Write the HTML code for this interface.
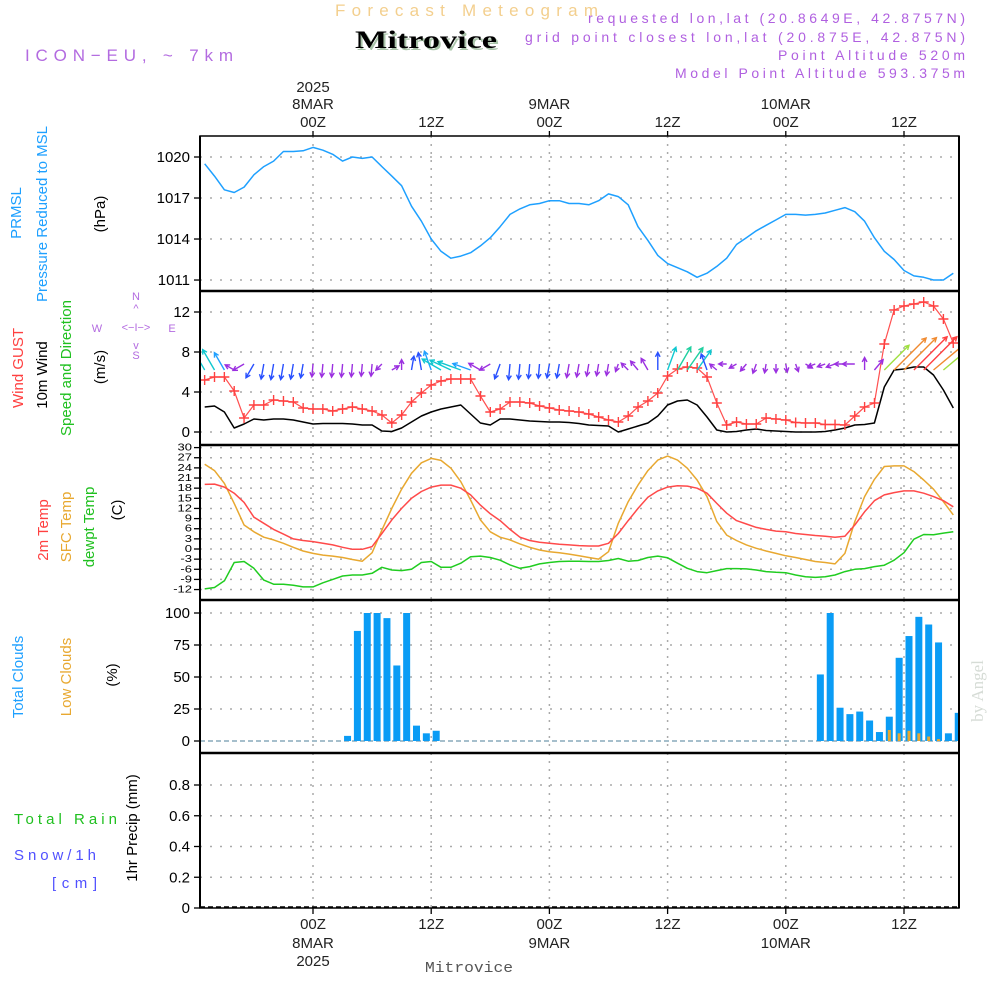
<!DOCTYPE html>
<html><head><meta charset="utf-8">
<style>
html,body{margin:0;padding:0;background:#fff;width:1000px;height:1000px;overflow:hidden}
svg{display:block}
text{font-family:"Liberation Sans","DejaVu Sans",sans-serif}
</style></head>
<body>
<svg id="chart" width="1000" height="1000" viewBox="0 0 1000 1000" xmlns="http://www.w3.org/2000/svg">
<defs><clipPath id="windclip"><rect x="200" y="292" width="759" height="152"/></clipPath></defs>
<g>
<text x="335" y="16" font-size="17" fill="#f3cf8e" textLength="263" lengthAdjust="spacing">Forecast Meteogram</text>
<text x="357" y="50" font-size="25" font-weight="bold" fill="#a9c4a9" style="font-family:'Liberation Serif',serif" textLength="142" lengthAdjust="spacingAndGlyphs">Mitrovice</text>
<text x="355" y="48" font-size="25" font-weight="bold" fill="#000" style="font-family:'Liberation Serif',serif" textLength="142" lengthAdjust="spacingAndGlyphs">Mitrovice</text>
<text x="25" y="61" font-size="17" fill="#b36be0" textLength="208" lengthAdjust="spacing">ICON−EU, ~ 7km</text>
<text x="965" y="23" font-size="14" fill="#b060e0" text-anchor="end" textLength="377" lengthAdjust="spacing">requested lon,lat (20.8649E, 42.8757N)</text>
<text x="965" y="42" font-size="14" fill="#b060e0" text-anchor="end" textLength="440" lengthAdjust="spacing">grid point closest lon,lat (20.875E, 42.875N)</text>
<text x="965" y="60" font-size="14" fill="#b060e0" text-anchor="end" textLength="187" lengthAdjust="spacing">Point Altitude 520m</text>
<text x="965" y="78" font-size="14" fill="#b060e0" text-anchor="end" textLength="290" lengthAdjust="spacing">Model Point Altitude 593.375m</text>
</g>
<g font-size="15">
<text transform="translate(21,213) rotate(-90)" text-anchor="middle" fill="#1ea0ff">PRMSL</text>
<text transform="translate(47,214) rotate(-90)" text-anchor="middle" fill="#1ea0ff">Pressure Reduced to MSL</text>
<text transform="translate(105,214) rotate(-90)" text-anchor="middle" fill="#000">(hPa)</text>
<text transform="translate(23,368) rotate(-90)" text-anchor="middle" fill="#ff4040">Wind GUST</text>
<text transform="translate(47,375) rotate(-90)" text-anchor="middle" fill="#000">10m Wind</text>
<text transform="translate(71,368) rotate(-90)" text-anchor="middle" fill="#20c020">Speed and Direction</text>
<text transform="translate(105,367) rotate(-90)" text-anchor="middle" fill="#000">(m/s)</text>
<g fill="#b36be0" font-size="11" text-anchor="middle">
<text x="136" y="300">N</text><text x="136" y="312">^</text><text x="136" y="331">&lt;−I−&gt;</text><text x="136" y="349">v</text><text x="136" y="359">S</text><text x="97" y="332">W</text><text x="172" y="332">E</text>
</g>
<text transform="translate(48,530) rotate(-90)" text-anchor="middle" fill="#ff4040">2m Temp</text>
<text transform="translate(71,527) rotate(-90)" text-anchor="middle" fill="#e8a830">SFC Temp</text>
<text transform="translate(94,527) rotate(-90)" text-anchor="middle" fill="#20c020">dewpt Temp</text>
<text transform="translate(122,510) rotate(-90)" text-anchor="middle" fill="#000">(C)</text>
<text transform="translate(23,677) rotate(-90)" text-anchor="middle" fill="#1ea0ff">Total Clouds</text>
<text transform="translate(71,677) rotate(-90)" text-anchor="middle" fill="#e8a830">Low Clouds</text>
<text transform="translate(117,675) rotate(-90)" text-anchor="middle" fill="#000">(%)</text>
<text transform="translate(137,828) rotate(-90)" text-anchor="middle" fill="#000">1hr Precip (mm)</text>
<text x="14" y="824" fill="#20c020" textLength="103" lengthAdjust="spacing">Total   Rain</text>
<text x="14" y="860" fill="#5050ff" textLength="82" lengthAdjust="spacing">Snow/1h</text>
<text x="52" y="888" fill="#5050ff" textLength="45" lengthAdjust="spacing">[cm]</text>
</g>
<text transform="translate(983,691) rotate(-90)" text-anchor="middle" font-size="17" fill="#d6dcd6" style="font-family:'Liberation Serif',serif">by Angel</text>
<text x="425" y="972" font-size="15" fill="#555" style="font-family:'Liberation Mono',monospace" textLength="88" lengthAdjust="spacingAndGlyphs">Mitrovice</text>
<g id="plot"></g>
</svg>
<script>
// hours relative to 8MAR 00Z, hourly from -11 to 65
const hourStart = -11;
const pressure = [1019.5,1018.6,1017.6,1017.4,1017.8,1018.7,1019.3,1019.7,1020.4,1020.4,1020.45,1020.7,1020.5,1020.2,1019.7,1020.0,1019.9,1020.0,1019.3,1018.6,1017.9,1016.4,1015.3,1014.0,1013.1,1012.6,1012.75,1013.0,1013.5,1014.1,1014.9,1015.8,1016.2,1016.5,1016.6,1016.8,1016.8,1016.6,1016.6,1016.5,1016.8,1017.3,1017.1,1016.5,1014.9,1013.9,1012.8,1012.2,1011.9,1011.6,1011.2,1011.5,1012.0,1012.6,1013.6,1014.1,1014.6,1015.0,1015.4,1015.8,1015.8,1015.75,1015.8,1015.9,1016.1,1016.3,1016.0,1015.3,1014.1,1013.1,1012.5,1011.7,1011.3,1011.2,1011.0,1011.0,1011.5];
const gust = [5.2,5.5,5.5,4.1,1.4,2.7,2.7,3.2,3.1,3.0,2.4,2.3,2.3,2.1,2.3,2.5,2.3,2.1,1.7,0.9,1.7,3.0,3.9,4.7,5.1,5.3,5.3,5.3,3.6,2.0,2.3,3.0,3.0,2.9,2.6,2.4,2.2,2.1,2.0,1.8,1.5,1.2,1.0,1.6,2.5,3.1,3.9,5.6,6.3,6.5,6.4,5.5,2.9,0.7,1.0,0.8,0.8,1.4,1.3,1.2,0.95,0.9,0.9,0.75,0.75,0.7,1.6,2.5,2.9,8.8,12.2,12.6,12.8,13.0,12.6,11.3,8.9];
const windSpeed = [2.5,2.6,2.0,0.4,0.8,1.3,1.2,1.3,1.3,1.2,1.0,0.8,0.85,0.85,0.85,0.8,0.7,0.7,0.1,0.05,0.4,1.0,1.6,2.0,2.3,2.5,2.7,1.8,0.9,0.7,1.3,1.3,1.2,1.1,1.05,1.0,1.0,0.95,0.85,0.7,0.65,0.6,0.0,0.3,0.6,0.9,1.6,2.7,3.1,3.2,2.7,1.5,0.2,0.0,0.05,0.2,0.3,0.15,0.1,0.05,0,0,0,0.05,0.2,0.4,0.7,0.75,0.9,4.5,6.2,6.3,6.5,6.5,5.7,4.2,2.4];
// direction the arrow points to, degrees clockwise from north
const windDir = [330,330,330,300,240,210,190,190,190,190,190,185,185,185,185,185,185,185,225,60,0,10,350,340,300,295,290,290,300,240,200,185,185,185,185,190,190,190,190,190,190,190,200,315,320,330,0,20,30,35,35,340,310,270,240,220,200,190,180,170,160,120,250,250,250,270,270,0,40,45,45,45,45,45,50,50];
const temp2m = [19.1,19.2,18.3,16.5,13.8,9.4,7.6,5.8,4.4,3.0,2.5,2.2,1.7,1.2,0.5,-0.1,-0.1,0.7,4.6,8.6,12.0,15.0,17.0,18.3,18.9,18.9,18.0,16.0,13.0,10.4,8.4,5.8,3.5,2.5,2.0,1.7,1.4,1.2,1.0,0.9,0.9,1.7,4.6,8.4,12.0,15.3,17.2,18.3,18.7,18.6,18.0,16.5,13.5,10.6,8.4,7.4,6.4,5.8,5.3,5.1,4.6,4.3,4.0,3.8,3.5,3.8,7.1,11.0,14.3,16.0,16.7,17.2,17.2,16.5,15.5,14.3,12.5];
const tempSfc = [25.1,23.2,19.4,13.5,7.1,5.1,3.5,2.7,1.7,0.5,-0.6,-1.3,-1.8,-2.1,-2.5,-3.1,-3.6,-1.1,5.6,12.0,17.7,22.4,25.5,26.8,26.2,23.9,19.9,14.5,8.6,5.1,3.5,2.7,1.5,0.5,-0.3,-0.8,-1.1,-1.5,-2.0,-2.5,-3.0,-0.8,7.6,14.0,18.9,23.2,26.3,27.5,26.3,23.9,20.4,15.5,8.1,4.1,2.5,1.2,0.2,-0.6,-1.3,-2.0,-2.5,-3.1,-3.7,-4.0,-4.4,-1.3,8.1,15.5,20.6,24.4,24.6,24.6,22.9,20.4,17.7,14.0,10.1];
const dewpoint = [-11.8,-11.4,-9.4,-4.0,-3.7,-5.7,-9.2,-10.4,-10.4,-10.7,-11.2,-11.2,-10.0,-9.0,-8.0,-7.7,-7.7,-7.2,-5.4,-6.2,-6.4,-6.0,-4.0,-3.7,-5.4,-5.4,-4.2,-2.3,-2.1,-2.5,-3.3,-4.7,-5.7,-5.2,-4.4,-4.0,-3.7,-3.6,-3.6,-3.7,-3.7,-3.4,-2.8,-3.6,-3.4,-2.5,-2.1,-2.6,-4.2,-5.7,-6.7,-7.0,-6.4,-5.8,-5.8,-5.9,-6.2,-6.7,-6.9,-7.0,-7.7,-8.2,-8.4,-8.2,-7.7,-6.7,-6.0,-5.8,-5.2,-4.8,-3.3,-1.1,2.9,4.3,4.2,4.7,5.1];
const totalClouds = [0,0,0,0,0,0,0,0,0,0,0,0,0,0,4,86,100,100,96,59,100,12,6,8,0,0,0,0,0,0,0,0,0,0,0,0,0,0,0,0,0,0,0,0,0,0,0,0,0,0,0,0,0,0,0,0,0,0,0,0,0,0,52,100,26,21,23,16,7,19,65,82,97,91,77,6,22];
const lowClouds = [0,0,0,0,0,0,0,0,0,0,0,0,0,0,0,0,0,0,0,0,0,0,0,0,0,0,0,0,0,0,0,0,0,0,0,0,0,0,0,0,0,0,0,0,0,0,0,0,0,0,0,0,0,0,0,0,0,0,0,0,0,0,0,0,0,0,0,0,0,8.6,6,8,6,3.5,1.5,0,0];
const precip = new Array(77).fill(0);
const pressTicks = [1011,1014,1017,1020];
const windTicks = [0,4,8,12];
const tempTicks = [-12,-9,-6,-3,0,3,6,9,12,15,18,21,24,27,30];
const cloudTicks = [0,25,50,75,100];
const precipTicks = [0,0.2,0.4,0.6,0.8];
const timeTicks = [0,12,24,36,48,60];
const timeLabels = ["00Z","12Z","00Z","12Z","00Z","12Z"];
const dateLabels = ["8MAR","","9MAR","","10MAR",""];

const NS="http://www.w3.org/2000/svg";
const plot=document.getElementById('plot');
const L=200,R=959;
const xh=h=>313+h*9.85;
const yP=p=>157+(1020-p)*13.67;
const yW=v=>432-v*10;
const yT=t=>549-t*3.38;
const yC=c=>741-c*1.28;
const yR=r=>908-r*153.75;
function el(tag,attrs,parent){const e=document.createElementNS(NS,tag);for(const k in attrs)e.setAttribute(k,attrs[k]);(parent||plot).appendChild(e);return e;}
const panels=[[136,291],[291,445],[445,600],[600,753],[753,908]];

const grid=el('g',{});


function hgrid(y){el('line',{x1:L,x2:R,y1:y,y2:y,stroke:'#aaa','stroke-width':1.5,'stroke-dasharray':'2 8'},grid);}
pressTicks.forEach(v=>hgrid(yP(v)));
windTicks.forEach(v=>hgrid(yW(v)));
tempTicks.forEach(v=>hgrid(yT(v)));
cloudTicks.forEach(v=>{if(v>0)hgrid(yC(v));});
precipTicks.forEach(v=>{if(v>0)hgrid(yR(v));});
timeTicks.forEach(h=>{panels.forEach(p=>el('line',{x1:xh(h),x2:xh(h),y1:p[0],y2:p[1],stroke:'#aaa','stroke-width':1.5,'stroke-dasharray':'2 6'},grid));});

function yaxis(ticks,fn,fmt,name){
  const g=el('g',{'font-size':15,'text-anchor':'end',fill:'#000'});
  
  
  ticks.forEach(v=>{const y=fn(v);el('line',{x1:L-6,x2:L,y1:y,y2:y,stroke:'#000','stroke-width':1.3},g);const t=el('text',{x:L-10,y:y+5},g);t.textContent=fmt(v);});
}
yaxis(pressTicks,yP,v=>v,'pressure-y-axis');
yaxis(windTicks,yW,v=>v,'wind-y-axis');
(function(){const g=el('g',{'font-size':13,'text-anchor':'end',fill:'#000'});


tempTicks.forEach(v=>{const y=yT(v);el('line',{x1:L-6,x2:L,y1:y,y2:y,stroke:'#000','stroke-width':1.3},g);const t=el('text',{x:L-8,y:y+4,transform:`translate(0,${y}) scale(1,0.75) translate(0,${-y})`},g);t.textContent=v;});})();
yaxis(cloudTicks,yC,v=>v,'cloud-y-axis');
yaxis(precipTicks,yR,v=>v===0?'0':v.toFixed(1),'precip-y-axis');

function line(arr,fn,color,name,w){
  const pts=arr.map((v,i)=>xh(hourStart+i).toFixed(1)+','+fn(v).toFixed(1)).join(' ');
  const p=el('polyline',{points:pts,fill:'none',stroke:color,'stroke-width':w||1.5,'stroke-linejoin':'round'});
  
  
  return p;
}
line(pressure,yP,'#1ea0ff','pressure-line');
line(windSpeed,yW,'#000','wind-speed-line');
line(gust,yW,'#ff5050','wind-gust-line',1.2);
const gm=el('g',{stroke:'#ff4040','stroke-width':1.4});


gust.forEach((v,i)=>{const x=xh(hourStart+i),y=yW(v);el('path',{d:`M${x-5},${y}h10M${x},${y-5}v10`},gm);});

function wcolor(s){if(s<1)return '#9b30e0';if(s<1.8)return '#2850ff';if(s<2.3)return '#20a0ff';if(s<3)return '#10c8d0';if(s<4)return '#20d0a0';if(s<5.5)return '#a0e040';if(s<6.4)return '#f08a30';return '#ff4040';}
const wa=el('g',{'stroke-width':1.4,fill:'none','clip-path':'url(#windclip)'});


windDir.forEach((d,i)=>{
  const s=windSpeed[i];const len=8+s*6;const r=d*Math.PI/180;
  const dx=Math.sin(r),dy=-Math.cos(r);
  const x0=xh(hourStart+i);const y0=dy<0?370:364;
  const x1=x0+dx*len,y1=y0+dy*len;
  const c=wcolor(s);const hl=5;
  const a1=r+Math.PI-0.5,a2=r+Math.PI+0.5;
  el('path',{d:`M${x0.toFixed(1)},${y0.toFixed(1)}L${x1.toFixed(1)},${y1.toFixed(1)}M${(x1+Math.sin(a1)*hl).toFixed(1)},${(y1-Math.cos(a1)*hl).toFixed(1)}L${x1.toFixed(1)},${y1.toFixed(1)}L${(x1+Math.sin(a2)*hl).toFixed(1)},${(y1-Math.cos(a2)*hl).toFixed(1)}`,stroke:c},wa);
});

line(tempSfc,yT,'#e8a830','sfc-temp-line');
line(temp2m,yT,'#ff4a4a','t2m-line');
line(dewpoint,yT,'#20cc20','dewpoint-line');

const cb=el('g',{});


el('line',{x1:L,x2:R,y1:741,y2:741,stroke:'#8ab','stroke-width':1.5,'stroke-dasharray':'5 3'},cb);
totalClouds.forEach((v,i)=>{if(v<=0)return;const cx=xh(hourStart+i)+5;const w=Math.min(7,R-(cx-3.5));
  const b=el('rect',{x:cx-3.5,y:yC(v),width:w,height:741-yC(v),fill:'#0a9cf5'},cb);
  
  });
lowClouds.forEach((v,i)=>{if(v<=0)return;const cx=xh(hourStart+i)+5;
  const b=el('rect',{x:cx-1.5,y:yC(v),width:3,height:741-yC(v),fill:'#e8a830'},cb);
  
  });

const pr=el('g',{});


precip.forEach((v,i)=>{if(v<=0)return;const cx=xh(hourStart+i)+5;el('rect',{x:cx-3.5,y:yR(v),width:7,height:908-yR(v),fill:'#20c020'},pr);});
el('line',{x1:L,x2:R,y1:907,y2:907,stroke:'#000','stroke-width':1.5,'stroke-dasharray':'5 3'},pr);

const fr=el('g',{fill:'none',stroke:'#000'});


el('rect',{x:L,y:136,width:R-L,height:908-136,'stroke-width':1.5},fr);
[291,445,600,753].forEach(y=>el('line',{x1:L,x2:R,y1:y,y2:y,'stroke-width':2.5},fr));
el('line',{x1:L,x2:L,y1:136,y2:908,'stroke-width':2},fr);
el('line',{x1:R,x2:R,y1:136,y2:908,'stroke-width':2},fr);

const ta=el('g',{'font-size':15,'text-anchor':'middle',fill:'#222'});


timeTicks.forEach((h,i)=>{const x=xh(h);
  el('line',{x1:x,x2:x,y1:131,y2:136,stroke:'#000','stroke-width':1.3},ta);
  el('line',{x1:x,x2:x,y1:908,y2:914,stroke:'#000','stroke-width':1.3},ta);
  let t=el('text',{x:x,y:127},ta);t.textContent=timeLabels[i];
  t=el('text',{x:x,y:929},ta);t.textContent=timeLabels[i];
  if(dateLabels[i]){t=el('text',{x:x,y:109},ta);t.textContent=dateLabels[i];
    t=el('text',{x:x,y:948},ta);t.textContent=dateLabels[i];}
  if(i===0){t=el('text',{x:x,y:92},ta);t.textContent='2025';t=el('text',{x:x,y:966},ta);t.textContent='2025';}
});
</script>
</body></html>
